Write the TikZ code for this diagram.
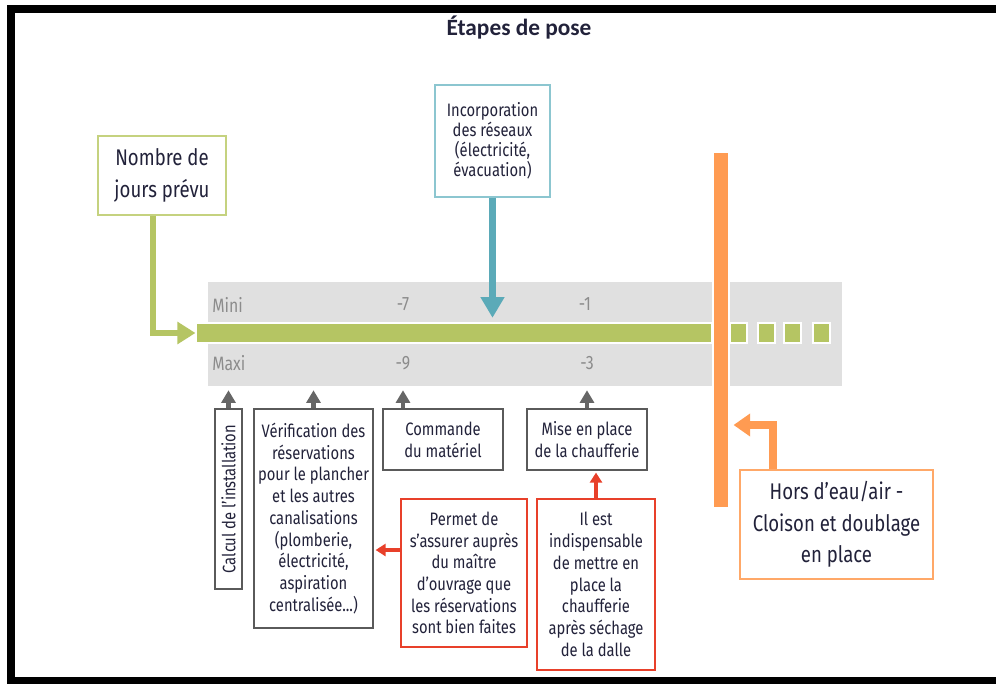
\documentclass[tikz,border=0pt]{standalone}
\usepackage{fontspec}
\setmainfont{Fira Sans}[FakeStretch=0.82]
\newfontfamily\titlefont{Carlito}
\usetikzlibrary{arrows.meta}
\definecolor{bandGrey}{HTML}{E0E0E0}
\definecolor{barGreen}{HTML}{B5C563}
\definecolor{boxGreen}{HTML}{C5D27F}
\definecolor{netTeal}{HTML}{5BAAB8}
\definecolor{boxTeal}{HTML}{8CC6D0}
\definecolor{wallOrange}{HTML}{FF9B52}
\definecolor{boxOrange}{HTML}{FFA868}
\definecolor{noteRed}{HTML}{E8402A}
\definecolor{arrowGrey}{HTML}{666666}
\definecolor{boxGrey}{HTML}{5A5A5A}
\definecolor{textNavy}{HTML}{22223A}
\definecolor{labelGrey}{HTML}{8C8C8C}
\newcommand\smalltext{\fontsize{13.5}{16.3}\selectfont}
\newcommand\bigtext{\fontsize{17}{23.5}\selectfont}
\begin{document}
\begin{tikzpicture}[x=0.75pt, y=-0.75pt,
  box/.style={draw, line width=0.9pt, fill=white, inner sep=0pt, align=center, text=textNavy},
  greybox/.style={box, draw=boxGrey, font=\smalltext},
  redbox/.style={box, draw=noteRed, font=\smalltext},
  marker/.style={text=labelGrey, font=\fontsize{14.5}{16}\selectfont, inner sep=0pt},
  garrow/.style={draw=barGreen, line width=5pt, -{Triangle[length=13.5pt, width=16pt]}},
  tarrow/.style={draw=netTeal, line width=5.5pt, -{Triangle[length=15.5pt, width=17pt]}},
  karrow/.style={draw=arrowGrey, line width=3.6pt, -{Triangle[length=9.5pt, width=10.5pt]}, shorten >=3pt},
  rarrow/.style={draw=noteRed, line width=3pt, -{Triangle[length=7.5pt, width=9pt]}, shorten >=1.5pt},
  oarrow/.style={draw=wallOrange, line width=6pt, -{Triangle[length=12.5pt, width=16.5pt]}, shorten >=3pt}]
  \useasboundingbox (0,0) rectangle (996,684);
  % frame and title
  \draw[line width=6pt] (1010,9) -- (11,9) -- (11,681) -- (1010,681);
  \node[text=textNavy, font=\titlefont\bfseries\fontsize{17.5}{20}\selectfont] (title) at (519,28) {Étapes de pose};
  % grey timeline band and green bar
  \node[fill=bandGrey, minimum width=475.5pt, minimum height=78pt, inner sep=0pt] (band) at (525,334) {};
  \node[fill=barGreen, draw=white, line width=0.8pt, minimum width=387pt, minimum height=15pt, inner sep=0pt] (bar) at (454,333) {};
  \foreach \x in {730,758,784,813}
    \filldraw[fill=barGreen, draw=white, line width=0.8pt] (\x,323) rectangle ++(17,20);
  % day markers
  \node[marker, anchor=west] (mini) at (212,305) {Mini};
  \node[marker, anchor=west] (maxi) at (212,363) {Maxi};
  \node[marker] (m7) at (403,304) {-7};
  \node[marker] (m1) at (585,304) {-1};
  \node[marker] (m9) at (403,363) {-9};
  \node[marker] (m3) at (587,363) {-3};
  % orange wall
  \node[fill=wallOrange, draw=white, line width=0.8pt, minimum width=12pt, minimum height=267pt, inner sep=0pt] (wall) at (721,330) {};
  % upper boxes
  \node[box, draw=boxGreen, font=\bigtext, minimum width=96pt, minimum height=59.25pt] (nombre) at (162,175.5) {Nombre de\\jours prévu};
  \node[box, draw=boxTeal, font=\fontsize{13.5}{15}\selectfont, minimum width=86.25pt, minimum height=84pt] (incorp) at (492.5,141) {Incorporation\\des réseaux\\(électricité,\\évacuation)};
  % lower boxes
  \node[greybox, rotate=90, minimum width=135pt, minimum height=20.25pt] (calcul) at (228.5,499) {Calcul de l’installation};
  \node[greybox, minimum width=89.25pt, minimum height=164.25pt] (verif) at (313.5,518.5) {Vérification des\\réservations\\pour le plancher\\et les autres\\canalisations\\(plomberie,\\électricité,\\aspiration\\centralisée...)};
  \node[greybox, minimum width=90pt, minimum height=45.75pt] (commande) at (443,439.5) {Commande\\du matériel};
  \node[greybox, minimum width=90pt, minimum height=45.75pt] (mise) at (587,439.5) {Mise en place\\de la chaufferie};
  \node[redbox, minimum width=94.5pt, minimum height=111pt] (permet) at (464,573) {Permet de\\s’assurer auprès\\du maître\\d’ouvrage que\\les réservations\\sont bien faites};
  \node[redbox, minimum width=88.5pt, minimum height=128.25pt] (ilest) at (596,584.5) {Il est\\indispensable\\de mettre en\\place la\\chaufferie\\après séchage\\de la dalle};
  \node[box, draw=boxOrange, font=\bigtext, minimum width=144.75pt, minimum height=81.75pt] (hors) at (836.5,524.5) {Hors d’eau/air -\\Cloison et doublage\\en place};
  % connectors
  \draw[garrow] ([xshift=-6.75pt]nombre.south) |- (bar.west);
  \draw[tarrow, shorten >=3.5pt] (incorp.south) -- (incorp.south |- bar.north);
  \draw[karrow] (calcul.east) -- (calcul.east |- band.south);
  \draw[karrow] (verif.north) -- (verif.north |- band.south);
  \draw[karrow] (m9 |- commande.north) -- (m9 |- band.south);
  \draw[karrow] (mise.north) -- (mise.north |- band.south);
  \coordinate (pin) at ([yshift=17.25pt]permet.west);
  \draw[rarrow] (pin) -- (pin -| verif.east);
  \draw[rarrow] (ilest.north) -- (ilest.north |- mise.south);
  \draw[oarrow] ([xshift=-47.6pt]hors.north) |- (wall.east |- 0,425);
\end{tikzpicture}
\end{document}
